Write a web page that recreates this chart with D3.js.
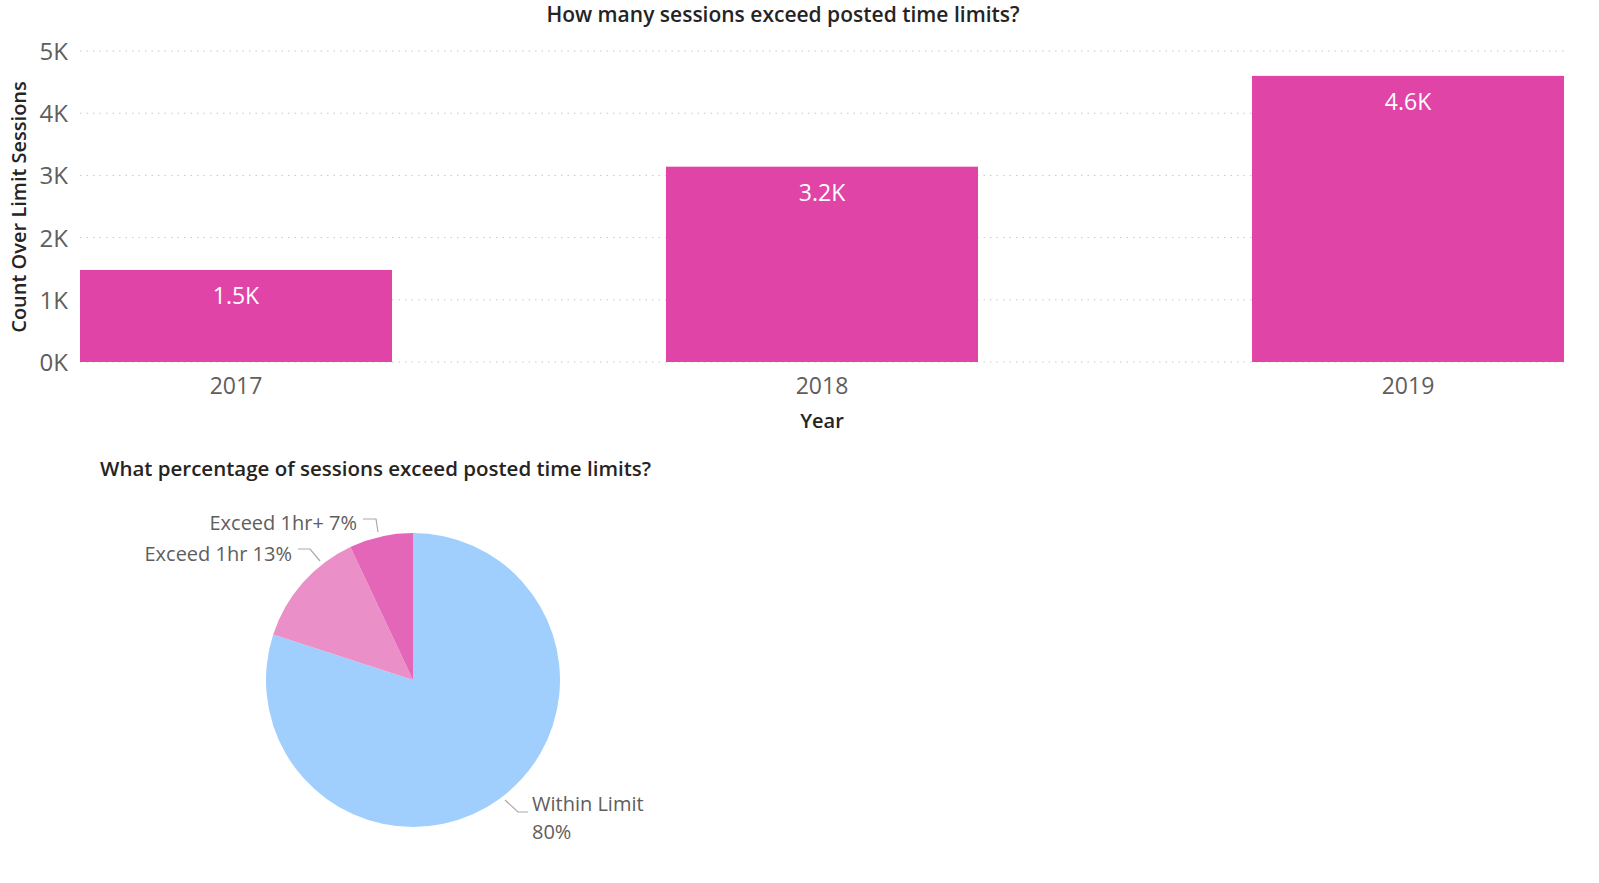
<!DOCTYPE html>
<html><head><meta charset="utf-8">
<script src="https://cdn.jsdelivr.net/npm/d3@7"></script>
<style>body{margin:0;background:#fff;font-family:"Open Sans",sans-serif}</style>
</head><body><svg id="c" width="1599" height="883"></svg>
<script>
const years = ["2017","2018","2019"];
const overLimit = [1480, 3140, 4600];
const barLabels = ["1.5K","3.2K","4.6K"];
const yTicks = [0,1000,2000,3000,4000,5000];
const pieCats = ["Within Limit","Exceed 1hr","Exceed 1hr+"];
const piePct = [80,13,7];

const svg = d3.select("#c");
const x = d3.scaleBand().domain(years).range([80,1564]).paddingInner(0.4676).paddingOuter(0);
const y = d3.scaleLinear().domain([0,5000]).range([362,51]);

svg.append("text").attr("x",783).attr("y",22).attr("text-anchor","middle").attr("font-size",21).attr("font-weight",600).attr("fill","#252423").text("How many sessions exceed posted time limits?");

svg.append("g").selectAll("line").data(yTicks).join("line")
 .attr("x1",80).attr("x2",1564).attr("y1",d=>y(d)).attr("y2",d=>y(d))
 .attr("stroke","#c8c8c8").attr("stroke-dasharray","1.5,5");
svg.append("g").selectAll("text").data(yTicks).join("text")
 .attr("x",68).attr("y",d=>y(d)+9).attr("text-anchor","end").attr("font-size",24).attr("fill","#605e5c")
 .text(d=>(d/1000)+"K");
svg.append("text").attr("transform","translate(26,207) rotate(-90)").attr("text-anchor","middle").attr("font-size",20).attr("font-weight",600).attr("fill","#252423").text("Count Over Limit Sessions");

svg.append("g").selectAll("rect").data(overLimit).join("rect")
 .attr("x",(d,i)=>x(years[i])).attr("width",x.bandwidth()).attr("y",d=>y(d)).attr("height",d=>y(0)-y(d)).attr("fill","#e044a7");
svg.append("g").selectAll("text").data(overLimit).join("text")
 .attr("x",(d,i)=>x(years[i])+x.bandwidth()/2).attr("y",d=>y(d)+34).attr("text-anchor","middle").attr("font-size",23).attr("fill","#fff")
 .text((d,i)=>barLabels[i]);
svg.append("g").selectAll("text").data(years).join("text")
 .attr("x",d=>x(d)+x.bandwidth()/2).attr("y",394).attr("text-anchor","middle").attr("font-size",23).attr("fill","#605e5c").text(d=>d);
svg.append("text").attr("x",822).attr("y",428).attr("text-anchor","middle").attr("font-size",20).attr("font-weight",600).attr("fill","#252423").text("Year");

svg.append("text").attr("x",100).attr("y",476).attr("font-size",20.5).attr("font-weight",600).attr("fill","#252423").text("What percentage of sessions exceed posted time limits?");

const cx=413, cy=680, r=147;
const colors=["#a0cffd","#eb8fc9","#e366b9"];
const pie = d3.pie().sort(null).value(d=>d)(piePct);
const arc = d3.arc().innerRadius(0).outerRadius(r);
const g = svg.append("g").attr("transform",`translate(${cx},${cy})`);
g.selectAll("path").data(pie).join("path").attr("d",arc).attr("fill",(d,i)=>colors[i]);

const lab = [
 {pts:[[505,800],[518,812],[528,812]], tx:532, ty:811, lines:["Within Limit","80%"], anchor:"start"},
 {pts:[[320,561],[310,549],[298,549]], tx:292, ty:561, lines:["Exceed 1hr 13%"], anchor:"end"},
 {pts:[[378,532],[376,519],[363,519]], tx:357, ty:530, lines:["Exceed 1hr+ 7%"], anchor:"end"}
];
lab.forEach(l=>{
 svg.append("polyline").attr("points",l.pts.map(p=>p.join(",")).join(" ")).attr("fill","none").attr("stroke","#aaa").attr("stroke-width",1.2);
 const t=svg.append("text").attr("x",l.tx).attr("y",l.ty).attr("text-anchor",l.anchor).attr("font-size",20).attr("fill","#605e5c");
 l.lines.forEach((s,i)=>t.append("tspan").attr("x",l.tx).attr("dy",i?28:0).text(s));
});
</script></body></html>
